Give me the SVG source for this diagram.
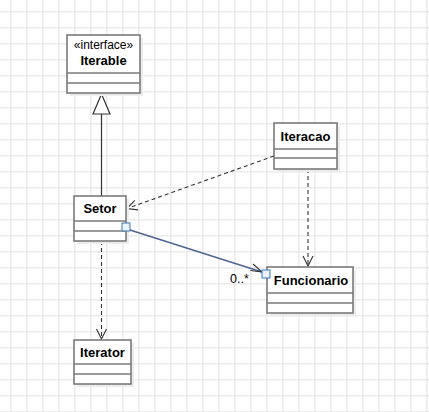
<svg xmlns="http://www.w3.org/2000/svg" width="429" height="412" viewBox="0 0 429 412">
<defs>
<pattern id="grid" x="0" y="0" width="16" height="16" patternUnits="userSpaceOnUse">
<rect x="10" y="0" width="1.6" height="16" fill="#ebebeb"/>
<rect x="0" y="11" width="16" height="1.6" fill="#ebebeb"/>
</pattern>
<marker id="open" viewBox="0 0 12 12" refX="11" refY="6" markerWidth="12" markerHeight="12" markerUnits="userSpaceOnUse" orient="auto">
<path d="M1,1 L11,6 L1,11" fill="none" stroke="#333" stroke-width="1.1"/>
</marker>
</defs>
<style>
.box{fill:#fff;stroke:#7a7a7a;stroke-width:1.6}
.shadow{fill:#ececec}
.div{stroke:#7a7a7a;stroke-width:1.6}
.title{font-family:"Liberation Sans",Arial,sans-serif;font-size:13px;font-weight:bold;fill:#000;text-anchor:middle}
.stereo{font-family:"Liberation Sans",Arial,sans-serif;font-size:12px;fill:#000;text-anchor:middle}
.label{font-family:"Liberation Sans",Arial,sans-serif;font-size:12.5px;fill:#000}
.dash{fill:none;stroke:#333;stroke-width:1.1;stroke-dasharray:4,3}
.solid{fill:none;stroke:#333;stroke-width:1.2}
.assoc{fill:none;stroke:#4f6590;stroke-width:1.5}
.port{fill:#eaf2fb;stroke:#4a80b8;stroke-width:1.1}
</style>
<rect width="429" height="412" fill="#fff"/>
<rect width="429" height="412" fill="url(#grid)"/>

<g id="connectors">
<line class="solid" x1="101.5" y1="114" x2="101.5" y2="196"/>
<polygon points="101.5,94 93,114 110,114" fill="#fff" stroke="#333" stroke-width="1.2"/>
<line class="dash" x1="274" y1="156" x2="127" y2="208.5" marker-end="url(#open)"/>
<line class="dash" x1="308" y1="169" x2="308" y2="266" marker-end="url(#open)"/>
<line class="dash" x1="101.5" y1="241" x2="101.5" y2="339" marker-end="url(#open)"/>
<line class="assoc" x1="130" y1="230" x2="262" y2="272"/>
<path d="M253,264 L262,272 L250.5,270.5" fill="none" stroke="#333" stroke-width="1.1"/>
<text class="label" x="230" y="283">0..*</text>
</g>

<g id="Iterable">
<rect class="shadow" x="70" y="38" width="73" height="58"/>
<rect class="box" x="67" y="35" width="73" height="58"/>
<line class="div" x1="67" y1="73" x2="140" y2="73"/>
<line class="div" x1="67" y1="83" x2="140" y2="83"/>
<text class="stereo" x="103.5" y="48.5">«interface»</text>
<text class="title" x="103.5" y="65">Iterable</text>
</g>

<g id="Setor">
<rect class="shadow" x="77" y="199" width="52" height="45"/>
<rect class="box" x="74" y="196" width="52" height="45"/>
<line class="div" x1="74" y1="221" x2="126" y2="221"/>
<line class="div" x1="74" y1="231" x2="126" y2="231"/>
<text class="title" x="100" y="212.5">Setor</text>
</g>

<g id="Iteracao">
<rect class="shadow" x="277" y="126" width="63" height="46"/>
<rect class="box" x="274" y="123" width="63" height="46"/>
<line class="div" x1="274" y1="149" x2="337" y2="149"/>
<line class="div" x1="274" y1="158" x2="337" y2="158"/>
<text class="title" x="305.5" y="141">Iteracao</text>
</g>

<g id="Funcionario">
<rect class="shadow" x="270" y="270" width="86" height="46"/>
<rect class="box" x="267" y="267" width="86" height="46"/>
<line class="div" x1="267" y1="293" x2="353" y2="293"/>
<line class="div" x1="267" y1="303" x2="353" y2="303"/>
<text class="title" x="311" y="284.5">Funcionario</text>
</g>

<g id="Iterator">
<rect class="shadow" x="77" y="343" width="57" height="44"/>
<rect class="box" x="74" y="340" width="57" height="44"/>
<line class="div" x1="74" y1="364" x2="131" y2="364"/>
<line class="div" x1="74" y1="374" x2="131" y2="374"/>
<text class="title" x="102.5" y="357">Iterator</text>
</g>

<g id="ports">
<rect class="port" x="122" y="223" width="8" height="8"/>
<rect class="port" x="262" y="270" width="8" height="8"/>
</g>
</svg>
